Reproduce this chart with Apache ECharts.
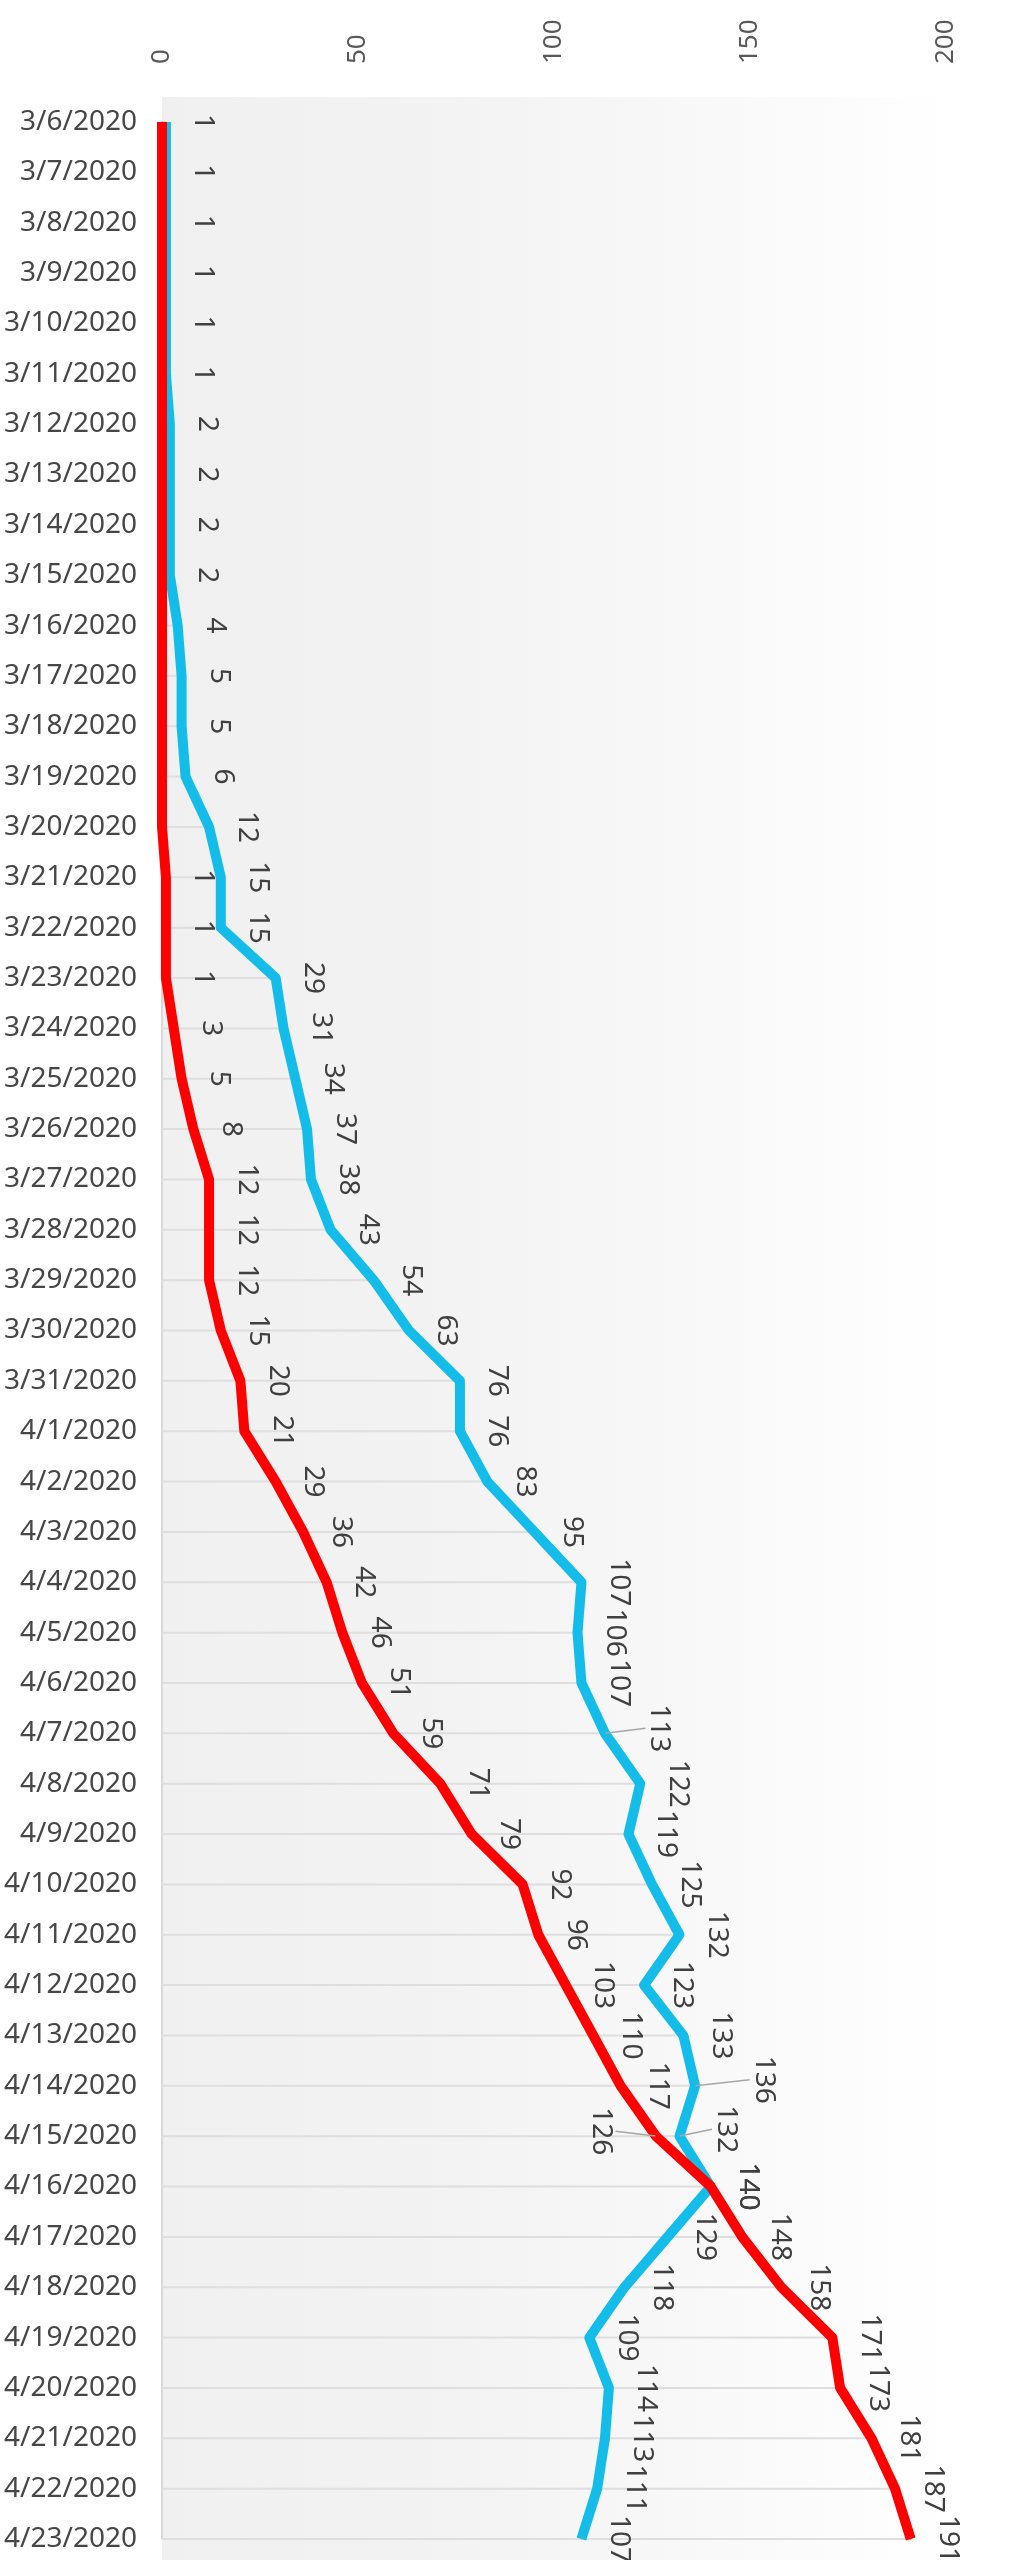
<!DOCTYPE html>
<html>
<head>
<meta charset="utf-8">
<script src="https://cdn.jsdelivr.net/npm/echarts@6/dist/echarts.min.js"></script>
<style>
  html, body { margin: 0; padding: 0; background: #fff; }
  #chart { width: 1024px; height: 2560px; }
</style>
</head>
<body>
<div id="chart"></div>
<script>
// dates on the (vertical) category axis
var dates = ['3/6/2020','3/7/2020','3/8/2020','3/9/2020','3/10/2020','3/11/2020','3/12/2020','3/13/2020',
  '3/14/2020','3/15/2020','3/16/2020','3/17/2020','3/18/2020','3/19/2020','3/20/2020','3/21/2020',
  '3/22/2020','3/23/2020','3/24/2020','3/25/2020','3/26/2020','3/27/2020','3/28/2020','3/29/2020',
  '3/30/2020','3/31/2020','4/1/2020','4/2/2020','4/3/2020','4/4/2020','4/5/2020','4/6/2020',
  '4/7/2020','4/8/2020','4/9/2020','4/10/2020','4/11/2020','4/12/2020','4/13/2020','4/14/2020',
  '4/15/2020','4/16/2020','4/17/2020','4/18/2020','4/19/2020','4/20/2020','4/21/2020','4/22/2020','4/23/2020'];

// blue line
var blueValues = [1,1,1,1,1,1,2,2,2,2,4,5,5,6,12,15,15,29,31,34,37,38,43,54,63,76,76,83,95,
  107,106,107,113,122,119,125,132,123,133,136,132,140,129,118,109,114,113,111,107];

// red line (0 = nothing yet, no label)
var redValues = [0,0,0,0,0,0,0,0,0,0,0,0,0,0,0,1,1,1,3,5,8,12,12,12,15,20,21,29,36,
  42,46,51,59,71,79,92,96,103,110,117,126,140,148,158,171,173,181,187,191];

var valueTicks = [0, 50, 100, 150, 200];

// labels that excel pushed aside (index -> screen [dx, dy])
var blueMoved = { 32: [17, -5], 39: [31, -6], 40: [9, -7] };
var redMoved = { 40: [-92, -5] };

var chart = echarts.init(document.getElementById('chart'));

// gridlines in the picture only run from the axis up to the lines
var gridReach = blueValues.map(function (v, i) { return Math.max(v, redValues[i]); });

function buildData(values, moved) {
  return values.map(function (v, i) {
    if (moved[i]) {
      return { value: v, labelLine: { show: true } };
    }
    return v;
  });
}

// label is rotated -90, so dx/dy are in the rotated frame
function makeLayout(moved) {
  return function (p) {
    var m = moved[p.dataIndex];
    if (m) return { dx: m[1], dy: -m[0] };
    return {};
  };
}

var labelCfg = {
  show: true,
  position: 'right',
  distance: 37,
  rotate: -90,
  align: 'center',
  verticalAlign: 'middle',
  color: '#404040',
  fontSize: 28,
  fontFamily: 'Noto Sans',
  formatter: function (p) { return p.value === 0 ? '' : String(p.value); }
};

var option = {
  backgroundColor: '#ffffff',
  animation: false,
  graphic: [{
    type: 'rect',
    z: -10,
    silent: true,
    shape: { x: 162, y: 97, width: 862, height: 2463 },
    style: {
      fill: {
        type: 'linear', x: 162, y: 0, x2: 1024, y2: 0, global: true,
        colorStops: [
          { offset: 0, color: '#f0f0f0' },
          { offset: 0.35, color: '#f3f3f3' },
          { offset: 0.7, color: '#fafafa' },
          { offset: 0.92, color: '#ffffff' },
          { offset: 1, color: '#ffffff' }
        ]
      }
    }
  }],
  grid: { left: 162, right: 78, top: 122, bottom: 21, containLabel: false },
  xAxis: {
    type: 'value',
    position: 'top',
    min: valueTicks[0],
    max: valueTicks[valueTicks.length - 1],
    interval: 50,
    axisLine: { show: false },
    axisTick: { show: false },
    splitLine: { show: false },
    axisLabel: {
      rotate: -90,
      margin: 58,
      fontSize: 26,
      fontFamily: 'Noto Sans',
      color: '#595959'
    }
  },
  yAxis: {
    type: 'category',
    inverse: true,
    boundaryGap: false,
    data: dates,
    axisLine: { show: true, lineStyle: { color: '#d9d9d9', width: 2 } },
    axisTick: { show: false },
    splitLine: { show: false },
    axisLabel: {
      interval: 0,
      margin: 25,
      fontSize: 28,
      fontFamily: 'Noto Sans',
      color: '#474747'
    }
  },
  series: [
    {
      name: 'grid',
      type: 'bar',
      data: gridReach,
      barWidth: 2,
      silent: true,
      z: 1,
      itemStyle: { color: '#dedede' },
      label: { show: false }
    },
    {
      name: 'blue',
      type: 'line',
      data: buildData(blueValues, blueMoved),
      z: 3,
      symbol: 'circle',
      symbolSize: 1,
      silent: true,
      itemStyle: { color: '#14bde9' },
      lineStyle: { color: '#14bde9', width: 10, join: 'round' },
      label: labelCfg,
      labelLine: { show: false, lineStyle: { color: '#a6a6a6', width: 1.5 } },
      labelLayout: makeLayout(blueMoved)
    },
    {
      name: 'red',
      type: 'line',
      data: buildData(redValues, redMoved),
      z: 4,
      symbol: 'circle',
      symbolSize: 1,
      silent: true,
      itemStyle: { color: '#ff0000' },
      lineStyle: { color: '#ff0000', width: 10, join: 'round' },
      label: labelCfg,
      labelLine: { show: false, lineStyle: { color: '#a6a6a6', width: 1.5 } },
      labelLayout: makeLayout(redMoved)
    }
  ]
};

chart.setOption(option);
window.addEventListener('resize', function () { chart.resize(); });
</script>
</body>
</html>
